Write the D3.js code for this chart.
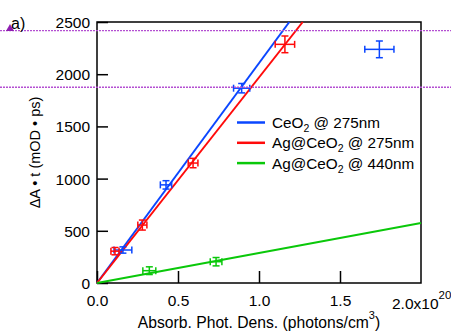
<!DOCTYPE html>
<html>
<head>
<meta charset="utf-8">
<script src="https://cdn.jsdelivr.net/npm/d3@7"></script>
<style>
body { margin:0; background:#fff; }
text { font-family: Arial, "Liberation Sans", sans-serif; fill:#000; }
</style>
</head>
<body>
<div id="chart"></div>
<script>
// measured points: x = absorbed photon density (1e20 photons/cm3), y = dA*t
var ceo2_275 = [
    {x:0.16, y:316, ex:0.055, ey:30},
    {x:0.426, y:940, ex:0.035, ey:40},
    {x:0.893, y:1866, ex:0.05, ey:45},
    {x:1.743, y:2238, ex:0.09, ey:80}
];
var agceo2_275 = [
    {x:0.111, y:305, ex:0.025, ey:35},
    {x:0.28, y:555, ex:0.028, ey:48},
    {x:0.593, y:1149, ex:0.03, ey:45},
    {x:1.16, y:2286, ex:0.06, ey:80}
];
var agceo2_440 = [
    {x:0.323, y:118, ex:0.04, ey:37},
    {x:0.735, y:204, ex:0.036, ey:40}
];
// fitted slopes through origin
var slopes = [2106, 1969, 287];
var seriesNames = ["CeO", "Ag@CeO", "Ag@CeO"];
var seriesWl = [" @ 275nm", " @ 275nm", " @ 440nm"];
var colors = ["#0a46ff", "#ff0a0a", "#0ac80a"];
var xTicks = [0, 0.5, 1.0, 1.5];
var yTicks = [0, 500, 1000, 1500, 2000, 2500];
var markerLevels = [2417, 1875];

var margin = {top:22, left:97, bottom:49, right:30},
    width = 451 - margin.left - margin.right,
    height = 332 - margin.top - margin.bottom;

var svg = d3.select("div#chart")
    .append("svg")
        .attr("width", 451)
        .attr("height", 332);
var g = svg.append("g")
        .attr("transform", "translate(" + margin.left + "," + margin.top + ")");

var x = d3.scaleLinear().domain([0, 2.0]).range([0, width]);
var y = d3.scaleLinear().domain([0, 2500]).range([height, 0]);

// axes with inward ticks
var xAxis = g.append("g")
    .attr("transform", "translate(0," + height + ")")
    .call(d3.axisBottom(x).tickValues(xTicks).tickFormat(d3.format(".1f")).tickSize(-12).tickPadding(12));
var yAxis = g.append("g")
    .call(d3.axisLeft(y).tickValues(yTicks).tickFormat(d3.format("d")).tickSize(-11).tickPadding(7));
[xAxis, yAxis].forEach(function(a) {
    a.select(".domain").remove();
    a.selectAll("line").attr("stroke", "#000").attr("stroke-width", 1.5);
    a.selectAll("text").style("font-size", "15.5px").attr("fill", "#000");
});
yAxis.selectAll(".tick text").attr("dy", "0.36em");

// frame
g.append("rect")
    .attr("x", 0).attr("y", 0)
    .attr("width", width).attr("height", height)
    .attr("fill", "none").attr("stroke", "#000").attr("stroke-width", 1.5);

// 2.0x10^20 label
var lab = svg.append("text")
    .attr("x", 392).attr("y", 309)
    .style("font-size", "15.5px");
lab.append("tspan").text("2.0x10");
lab.append("tspan").attr("dy", -10).style("font-size", "11.5px").text("20");

// fit lines
slopes.forEach(function(s, i) {
    var xEnd = Math.min(2.0, 2500 / s);
    g.append("line")
        .attr("x1", x(0)).attr("y1", y(0))
        .attr("x2", x(xEnd)).attr("y2", y(s * xEnd))
        .attr("stroke", colors[i]).attr("stroke-width", 2);
});

// error bars
var capW = 3.5;
[ceo2_275, agceo2_275, agceo2_440].forEach(function(data, i) {
    var pts = g.selectAll(".pt" + i).data(data).enter().append("g")
        .attr("stroke", colors[i]).attr("stroke-width", 1.5).attr("fill", "none");
    pts.append("line")
        .attr("x1", function(d){return x(d.x - d.ex);})
        .attr("x2", function(d){return x(d.x + d.ex);})
        .attr("y1", function(d){return y(d.y);})
        .attr("y2", function(d){return y(d.y);});
    pts.append("line")
        .attr("x1", function(d){return x(d.x);})
        .attr("x2", function(d){return x(d.x);})
        .attr("y1", function(d){return y(d.y - d.ey);})
        .attr("y2", function(d){return y(d.y + d.ey);});
    [-1, 1].forEach(function(sg) {
        pts.append("line")
            .attr("x1", function(d){return x(d.x + sg*d.ex);})
            .attr("x2", function(d){return x(d.x + sg*d.ex);})
            .attr("y1", function(d){return y(d.y) - capW;})
            .attr("y2", function(d){return y(d.y) + capW;});
        pts.append("line")
            .attr("x1", function(d){return x(d.x) - capW;})
            .attr("x2", function(d){return x(d.x) + capW;})
            .attr("y1", function(d){return y(d.y + sg*d.ey);})
            .attr("y2", function(d){return y(d.y + sg*d.ey);});
    });
});

// legend
var leg = g.append("g").attr("transform", "translate(140,100.5)");
seriesNames.forEach(function(n, i) {
    var row = leg.append("g").attr("transform", "translate(0," + (i * 20.3) + ")");
    row.append("line").attr("x1", 0).attr("x2", 28).attr("y1", 0).attr("y2", 0)
        .attr("stroke", colors[i]).attr("stroke-width", 2.5);
    var t = row.append("text").attr("x", 35).attr("y", 5.5).style("font-size", "15.3px");
    t.append("tspan").text(n);
    t.append("tspan").attr("dy", 4).style("font-size", "10.5px").text("2");
    t.append("tspan").attr("dy", -4).text(seriesWl[i]);
});

// axis titles
svg.append("text")
    .attr("transform", "translate(40," + (margin.top + height / 2) + ") rotate(-90)")
    .attr("text-anchor", "middle")
    .style("font-size", "14.5px")
    .text("\u0394A \u2022 t (mOD \u2022 ps)");
var xl = svg.append("text")
    .attr("x", 259).attr("y", 328)
    .attr("text-anchor", "middle")
    .style("font-size", "15.7px");
xl.append("tspan").text("Absorb. Phot. Dens. (photons/cm");
xl.append("tspan").attr("dy", -9).style("font-size", "11px").text("3");
xl.append("tspan").attr("dy", 9).text(")");

// purple dotted marker lines
markerLevels.forEach(function(v) {
    svg.append("line")
        .attr("x1", 0).attr("x2", 451)
        .attr("y1", margin.top + y(v)).attr("y2", margin.top + y(v))
        .attr("stroke", "#b44fd2").attr("stroke-width", 1.3)
        .attr("stroke-dasharray", "2,1");
});
svg.append("text").attr("x", 11).attr("y", 29).style("font-size", "16px").text("a)");
svg.append("path")
    .attr("d", "M6,31 L14,31 L10,24 Z")
    .attr("fill", "#8e1eb0");
</script>
</body>
</html>
